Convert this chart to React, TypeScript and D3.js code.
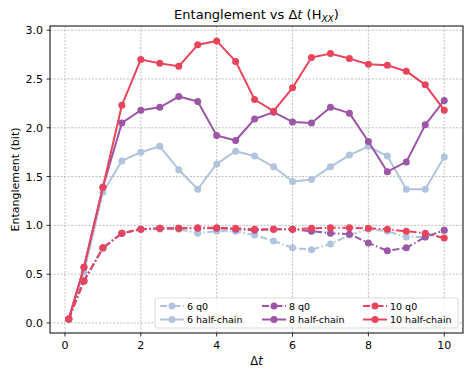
import React from "react";
import { scaleLinear, line } from "d3";

// time steps (Δt)
const dts = [0.1, 0.5, 1, 1.5, 2, 2.5, 3, 3.5, 4, 4.5, 5, 5.5, 6, 6.5, 7, 7.5, 8, 8.5, 9, 9.5, 10];

// entanglement values
const q0_6 = [0.04, 0.43, 0.76, 0.92, 0.96, 0.96, 0.96, 0.92, 0.94, 0.94, 0.9, 0.84, 0.77, 0.75, 0.81, 0.9, 0.96, 0.94, 0.88, 0.88, 0.95];
const half_6 = [0.04, 0.52, 1.34, 1.66, 1.75, 1.81, 1.57, 1.37, 1.63, 1.76, 1.71, 1.6, 1.45, 1.47, 1.6, 1.72, 1.81, 1.71, 1.37, 1.37, 1.7];
const q0_8 = [0.04, 0.43, 0.77, 0.92, 0.96, 0.97, 0.97, 0.97, 0.97, 0.96, 0.95, 0.96, 0.96, 0.94, 0.92, 0.91, 0.82, 0.74, 0.77, 0.88, 0.95];
const half_8 = [0.04, 0.57, 1.39, 2.05, 2.18, 2.21, 2.32, 2.27, 1.92, 1.87, 2.09, 2.16, 2.06, 2.05, 2.21, 2.15, 1.86, 1.55, 1.65, 2.03, 2.28];
const q0_10 = [0.04, 0.43, 0.77, 0.92, 0.96, 0.97, 0.97, 0.975, 0.975, 0.97, 0.96, 0.96, 0.96, 0.97, 0.975, 0.975, 0.97, 0.96, 0.94, 0.92, 0.87];
const half_10 = [0.04, 0.57, 1.39, 2.23, 2.7, 2.66, 2.63, 2.85, 2.89, 2.68, 2.29, 2.17, 2.41, 2.72, 2.76, 2.71, 2.65, 2.64, 2.58, 2.44, 2.18];

const xTicks = [0, 2, 4, 6, 8, 10];
const yTicks = [0, 0.5, 1, 1.5, 2, 2.5, 3];

const cBlue = "#b0c4de";
const cPurple = "#9b56a5";
const cRed = "#e8455c";
const dashDot = "7,2.5,1.5,2.5";

const series = [
  { name: "6 q0", values: q0_6, color: cBlue, dashed: true },
  { name: "6 half-chain", values: half_6, color: cBlue, dashed: false },
  { name: "8 q0", values: q0_8, color: cPurple, dashed: true },
  { name: "8 half-chain", values: half_8, color: cPurple, dashed: false },
  { name: "10 q0", values: q0_10, color: cRed, dashed: true },
  { name: "10 half-chain", values: half_10, color: cRed, dashed: false },
];

const App = () => {
  const width = 471;
  const height = 377;
  const left = 50, right = 463, top = 26, bottom = 333;
  const font = "DejaVu Sans, sans-serif";

  const x = scaleLinear().domain([-0.395, 10.495]).range([left, right]);
  const y = scaleLinear().domain([-0.103, 3.043]).range([bottom, top]);

  const path = line<number>()
    .x((_, i) => x(dts[i]))
    .y((d) => y(d));

  // legend layout: 3 columns x 2 rows
  const legX = 155, legY = 298, legW = 303, legH = 30;
  const colX = [160, 262, 363];
  const rowY = [306, 319.5];

  return (
    <svg width={width} height={height} style={{ position: "absolute", left: 0, top: 0 }}>
      <rect width={width} height={height} fill="#fff" />
      {/* grid */}
      {xTicks.map((t) => (
        <line key={"gx" + t} x1={x(t)} x2={x(t)} y1={top} y2={bottom} stroke="#b0b0b0" strokeWidth={0.8} strokeDasharray="2,1.5" />
      ))}
      {yTicks.map((t) => (
        <line key={"gy" + t} x1={left} x2={right} y1={y(t)} y2={y(t)} stroke="#b0b0b0" strokeWidth={0.8} strokeDasharray="2,1.5" />
      ))}

      {/* series */}
      {series.map((s) => (
        <g key={s.name}>
          <path d={path(s.values) || ""} fill="none" stroke={s.color} strokeWidth={2}
            strokeDasharray={s.dashed ? dashDot : undefined} strokeLinejoin="round" />
          {s.values.map((v, i) => (
            <circle key={i} cx={x(dts[i])} cy={y(v)} r={3.5} fill={s.color} />
          ))}
        </g>
      ))}

      {/* spines */}
      <rect x={left} y={top} width={right - left} height={bottom - top} fill="none" stroke="#000" strokeWidth={1} />

      {/* ticks */}
      {xTicks.map((t) => (
        <g key={"tx" + t}>
          <line x1={x(t)} x2={x(t)} y1={bottom} y2={bottom + 3.5} stroke="#000" strokeWidth={0.8} />
          <text x={x(t)} y={bottom + 15.5} textAnchor="middle" fontFamily={font} fontSize={11}>{t}</text>
        </g>
      ))}
      {yTicks.map((t) => (
        <g key={"ty" + t}>
          <line x1={left - 3.5} x2={left} y1={y(t)} y2={y(t)} stroke="#000" strokeWidth={0.8} />
          <text x={left - 7} y={y(t) + 4} textAnchor="end" fontFamily={font} fontSize={11}>{t.toFixed(1)}</text>
        </g>
      ))}

      {/* labels */}
      <text x={(left + right) / 2} y={365} textAnchor="middle" fontFamily={font} fontSize={11.5}>
        Δ<tspan fontStyle="italic">t</tspan>
      </text>
      <text transform={`translate(19,${(top + bottom) / 2}) rotate(-90)`} textAnchor="middle" fontFamily={font} fontSize={11}>
        Entanglement (bit)
      </text>
      <text x={(left + right) / 2} y={19} textAnchor="middle" fontFamily={font} fontSize={13}>
        Entanglement vs Δ<tspan fontStyle="italic">t</tspan> (H<tspan fontSize={9} dy={2.5} fontStyle="italic">XX</tspan><tspan dy={-2.5}>)</tspan>
      </text>

      {/* legend */}
      <rect x={legX} y={legY} width={legW} height={legH} rx={2} fill="#fff" fillOpacity={0.8} stroke="#d0d0d0" strokeWidth={0.8} />
      {series.map((s, i) => {
        const cx = colX[Math.floor(i / 2)];
        const cy = rowY[i % 2];
        return (
          <g key={"leg" + s.name}>
            <line x1={cx} x2={cx + 24} y1={cy} y2={cy} stroke={s.color} strokeWidth={2}
              strokeDasharray={s.dashed ? dashDot : undefined} />
            <circle cx={cx + 12} cy={cy} r={3.5} fill={s.color} />
            <text x={cx + 27} y={cy + 3.5} fontFamily={font} fontSize={9.5}>{s.name}</text>
          </g>
        );
      })}
    </svg>
  );
};

export default App;
